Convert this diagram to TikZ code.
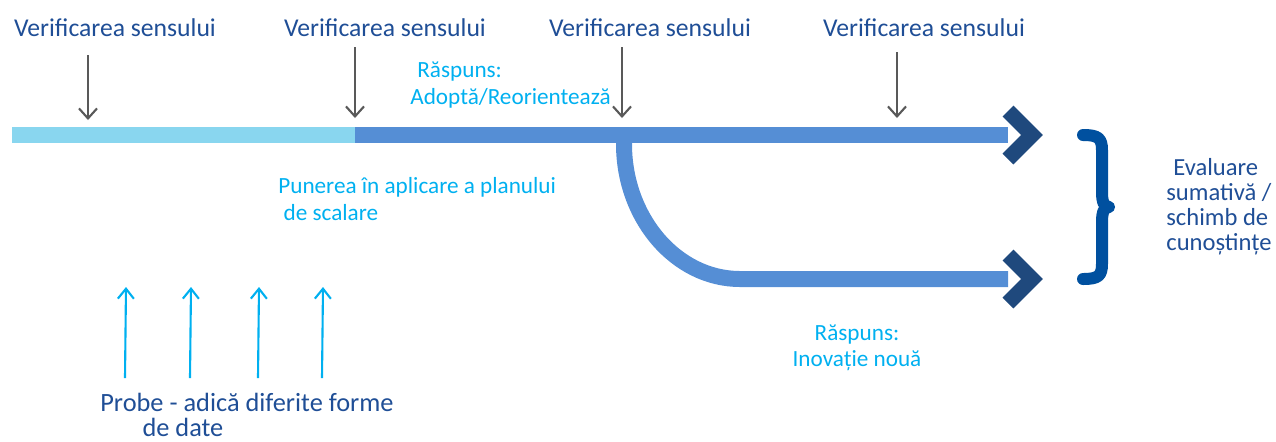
\documentclass[tikz,border=0pt]{standalone}
\usepackage{fontspec}
\setmainfont{Carlito}
\usepackage{tikz}
\usetikzlibrary{arrows.meta, positioning, calc}
\definecolor{labelblue}{HTML}{1F4E96}
\definecolor{respcyan}{HTML}{00B0F0}
\definecolor{lightbar}{HTML}{89D6EF}
\definecolor{midbar}{HTML}{558ED5}
\definecolor{chevblue}{HTML}{1F497D}
\definecolor{braceblue}{HTML}{00509F}
\definecolor{arrowgray}{HTML}{595959}
\tikzstyle{check} = [font=\fontsize{14.6}{17}\selectfont, text=labelblue, inner sep=0pt]
\tikzstyle{resp} = [font=\fontsize{13.2}{15}\selectfont, text=respcyan, inner sep=0pt, align=left]
\tikzstyle{bar} = [line width=0.32cm, line cap=butt]
\tikzstyle{chev} = [line width=0.31cm, draw=chevblue, line join=miter]
\tikzstyle{downarrow} = [draw=arrowgray, line width=1.2pt, -{Straight Barb[length=0.2cm, width=0.36cm]}]
\tikzstyle{uparrow} = [draw=respcyan, line width=1.2pt, -{Straight Barb[length=0.2cm, width=0.32cm]}]

\begin{document}
\begin{tikzpicture}[x=0.02cm, y=-0.02cm]
    \useasboundingbox (0,0) rectangle (1276,441);

    % Checkpoints (top)
    \node (v1) [check] at (115,28) {Verificarea sensului};
    \node (v2) [check] at (385,28) {Verificarea sensului};
    \node (v3) [check] at (650,28) {Verificarea sensului};
    \node (v4) [check] at (924,28) {Verificarea sensului};

    \coordinate (t1) at (88,55);   \coordinate (b1) at (88,120);
    \coordinate (t2) at (355,47);  \coordinate (b2) at (355,118);
    \coordinate (t3) at (622,47);  \coordinate (b3) at (622,118);
    \coordinate (t4) at (897,52);  \coordinate (b4) at (897,118);
    \draw [downarrow] (t1) -- (b1);
    \draw [downarrow] (t2) -- (b2);
    \draw [downarrow] (t3) -- (b3);
    \draw [downarrow] (t4) -- (b4);

    % Timeline
    \coordinate (start) at (12,135);
    \coordinate (split) at (355,135);
    \coordinate (fork) at (624,135);
    \coordinate (end1) at (1008,135);
    \coordinate (end2) at (1008,279);
    \draw [bar, draw=lightbar] (start) -- (split);
    \draw [bar, draw=midbar] (split) -- (end1);
    \draw [bar, draw=midbar] (fork) -- (624,144)
        .. controls (624,218) and (676,279) .. (740,279) -- (end2);

    % Chevrons
    \draw [chev] (1008,111) -- (1032,135) -- (1008,159);
    \draw [chev] (1008,255) -- (1032,279) -- (1008,303);

    % Brace and outcome
    \draw [braceblue, line width=0.24cm, line cap=round, line join=round]
        (1083,135) .. controls (1098,135) and (1102,138) .. (1102,150) -- (1102,192)
        .. controls (1102,202) and (1104,207) .. (1109,207)
        .. controls (1104,207) and (1102,212) .. (1102,222) -- (1102,264)
        .. controls (1102,276) and (1098,279) .. (1083,279);
    \node (eval) [font=\fontsize{14}{14.2}\selectfont, text=labelblue, inner sep=0pt, align=left, anchor=west]
        at (1166,207) {\hspace*{4pt}Evaluare\\sumativă /\\schimb de\\cunoștințe};

    % Responses
    \node (r1) [resp, anchor=west] at (410,85) {\hspace*{4pt}Răspuns:\\Adoptă/Reorientează};
    \node (impl) [resp, anchor=west] at (278,199) {Punerea în aplicare a planului\\\hspace*{3pt}de scalare};
    \node (r2) [resp, align=center] at (857,348) {Răspuns:\\Inovație nouă};

    % Evidence (bottom)
    \coordinate (e1) at (125,378);  \coordinate (f1) at (126,287);
    \coordinate (e2) at (190,378);  \coordinate (f2) at (191,287);
    \coordinate (e3) at (258,378);  \coordinate (f3) at (259,287);
    \coordinate (e4) at (322,378);  \coordinate (f4) at (323,287);
    \draw [uparrow] (e1) -- (f1);
    \draw [uparrow] (e2) -- (f2);
    \draw [uparrow] (e3) -- (f3);
    \draw [uparrow] (e4) -- (f4);
    \node (probe) [font=\fontsize{15}{14}\selectfont, text=labelblue, inner sep=0pt, align=left, anchor=west]
        at (100,415) {Probe - adică diferite forme\\\hspace*{24pt}de date};
\end{tikzpicture}
\end{document}
